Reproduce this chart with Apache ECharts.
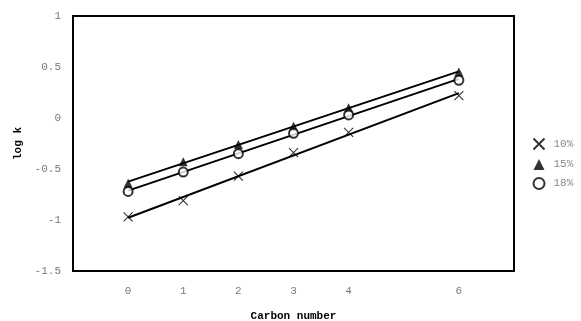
<!DOCTYPE html>
<html>
<head>
<meta charset="utf-8">
<script src="https://cdn.jsdelivr.net/npm/echarts@6/dist/echarts.min.js"></script>
<style>html,body{margin:0;padding:0;background:#fff}#c{width:581px;height:321px}</style>
</head>
<body>
<div id="c"></div>
<script>
var carbon = [0, 1, 2, 3, 4, 6];
var xTickLabels = [0, 1, 2, 3, 4, 6];
var yTicks = [-1.5, -1, -0.5, 0, 0.5, 1];
var s10 = [-0.97, -0.81, -0.57, -0.34, -0.14, 0.22];
var s15 = [-0.64, -0.43, -0.26, -0.08, 0.10, 0.45];
var s18 = [-0.72, -0.53, -0.35, -0.15, 0.03, 0.37];
var names = ['10%', '15%', '18%'];

function pts(ys) { return carbon.map(function (c, i) { return [c, ys[i]]; }); }
function fit(ys) {
  var n = carbon.length, sx = 0, sy = 0, sxx = 0, sxy = 0;
  for (var i = 0; i < n; i++) { sx += carbon[i]; sy += ys[i]; sxx += carbon[i] * carbon[i]; sxy += carbon[i] * ys[i]; }
  var b = (n * sxy - sx * sy) / (n * sxx - sx * sx), a = (sy - b * sx) / n;
  var x0 = carbon[0], x1 = carbon[n - 1];
  return [[x0, a + b * x0], [x1, a + b * x1]];
}
var xPath = 'path://M0,0L10,10M10,0L0,10';
var mono = '"Liberation Mono", "DejaVu Sans Mono", monospace';

var chart = echarts.init(document.getElementById('c'), null, { renderer: 'canvas', width: 581, height: 321 });
function trend(ys) {
  return { type: 'line', data: fit(ys), symbol: 'none', silent: true, z: 1,
    lineStyle: { color: '#000', width: 2 } };
}
chart.setOption({
  animation: false,
  backgroundColor: '#fff',
  grid: { left: 73, top: 16, width: 441, height: 255, outerBoundsMode: 'none', containLabel: false,
    show: true, borderColor: '#000', borderWidth: 2, backgroundColor: '#fff' },
  legend: {
    orient: 'vertical', left: 526, top: 131, itemGap: 7, itemWidth: 11, itemHeight: 11,
    data: names,
    textStyle: { fontFamily: mono, fontSize: 11, color: '#888', padding: [0, 0, 0, 4] }
  },
  xAxis: {
    type: 'value', min: -1, max: 7, interval: 1,
    name: 'Carbon number', nameLocation: 'middle', nameGap: 40,
    nameTextStyle: { fontFamily: mono, fontSize: 11, fontWeight: 'bold', color: '#000' },
    axisLine: { show: false }, axisTick: { show: false }, splitLine: { show: false },
    axisLabel: { margin: 15, fontFamily: mono, fontSize: 11, color: '#777',
      formatter: function (v) { return xTickLabels.indexOf(v) >= 0 ? String(v) : ''; } }
  },
  yAxis: {
    type: 'value', min: -1.5, max: 1, interval: 0.5,
    name: 'log k', nameLocation: 'middle', nameGap: 49, nameRotate: 90,
    nameTextStyle: { fontFamily: mono, fontSize: 11, fontWeight: 'bold', color: '#000' },
    axisLine: { show: false }, axisTick: { show: false }, splitLine: { show: false },
    axisLabel: { margin: 12, fontFamily: mono, fontSize: 11, color: '#777',
      formatter: function (v) { return yTicks.indexOf(v) >= 0 ? String(v) : ''; } }
  },
  series: [
    trend(s10), trend(s15), trend(s18),
    { name: names[0], type: 'scatter', data: pts(s10), symbol: xPath, symbolSize: 9, z: 3,
      itemStyle: { color: 'none', borderColor: '#000', borderWidth: 1.1 } },
    { name: names[1], type: 'scatter', data: pts(s15), symbol: 'triangle', symbolSize: 9, z: 3,
      itemStyle: { color: '#000' } },
    { name: names[2], type: 'scatter', data: pts(s18), symbol: 'emptyCircle', symbolSize: 9, z: 4,
      itemStyle: { color: '#000', borderColor: '#000', borderWidth: 1.2 } }
  ]
});
</script>
</body>
</html>
